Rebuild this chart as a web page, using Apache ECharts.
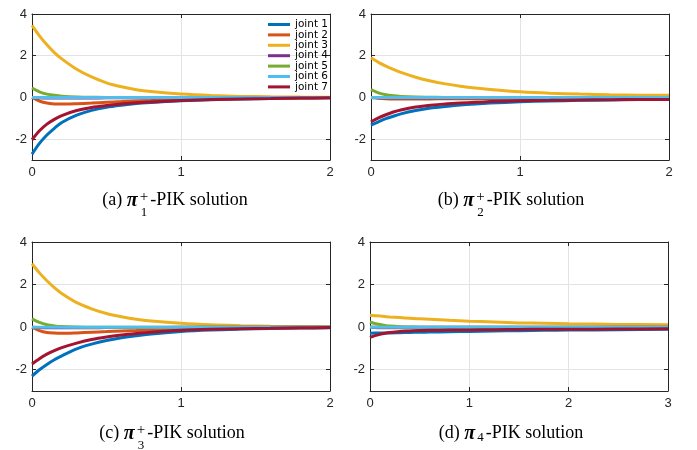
<!DOCTYPE html>
<html><head><meta charset="utf-8">
<script src="https://cdn.jsdelivr.net/npm/echarts@6/dist/echarts.min.js"></script>
<style>html,body{margin:0;padding:0;background:#fff}#c{width:697px;height:450px}</style>
</head><body><div id="c"></div>
<script>
// ---------- data ----------
const jointNames = ['joint 1','joint 2','joint 3','joint 4','joint 5','joint 6','joint 7'];
const yTicks = [-2, 0, 2, 4];
const xTicksABC = [0, 1, 2];
const xTicksD = [0, 1, 2, 3];
const captionLetters = ['a','b','c','d'];
const captionSubs = ['1','2','3','4'];
const captionSups = ['+','+','+',''];

const timeABC = [0, 0.05, 0.1, 0.15, 0.2, 0.3, 0.4, 0.5, 0.6, 0.7, 0.8, 1.0, 1.2, 1.4, 1.6, 1.8, 2.0];
const timeD   = [0, 0.05, 0.1, 0.15, 0.2, 0.3, 0.4, 0.5, 0.6, 0.8, 1.0, 1.25, 1.5, 1.75, 2.0, 2.5, 3.0];

const a1 = [-2.72,-2.2,-1.8,-1.48,-1.2,-0.85,-0.62,-0.47,-0.37,-0.29,-0.24,-0.16,-0.11,-0.07,-0.05,-0.03,-0.02];
const a2 = [0,-0.17,-0.27,-0.31,-0.32,-0.3,-0.27,-0.23,-0.2,-0.17,-0.15,-0.11,-0.08,-0.05,-0.04,-0.03,-0.02];
const a3 = [3.45,2.95,2.52,2.15,1.85,1.35,0.98,0.7,0.51,0.37,0.28,0.16,0.09,0.05,0.03,0.015,0.01];
const a4 = [0,-0.02,-0.03,-0.03,-0.03,-0.03,-0.03,-0.02,-0.02,-0.02,-0.02,-0.01,-0.01,-0.01,0,0,0];
const a5 = [0.45,0.27,0.16,0.1,0.06,0.02,0.01,0,0,0,0,0,0,0,0,0,0];
const a6 = [0,0,0,0,0,0,0,0,0,0,0,0,0,0,0,0,0];
const a7 = [-2.03,-1.6,-1.28,-1.05,-0.87,-0.63,-0.48,-0.39,-0.32,-0.26,-0.22,-0.15,-0.1,-0.07,-0.05,-0.03,-0.02];

const b1 = [-1.33,-1.17,-1.02,-0.9,-0.79,-0.63,-0.51,-0.43,-0.36,-0.31,-0.27,-0.21,-0.17,-0.14,-0.12,-0.1,-0.09];
const b2 = [0,-0.04,-0.06,-0.07,-0.07,-0.07,-0.07,-0.06,-0.06,-0.06,-0.05,-0.05,-0.05,-0.04,-0.04,-0.04,-0.04];
const b3 = [1.9,1.68,1.5,1.34,1.2,0.97,0.79,0.65,0.54,0.45,0.38,0.27,0.2,0.16,0.13,0.11,0.1];
const b4 = [0,-0.01,-0.02,-0.02,-0.02,-0.02,-0.02,-0.02,-0.02,-0.02,-0.02,-0.02,-0.02,-0.02,-0.02,-0.02,-0.02];
const b5 = [0.37,0.22,0.13,0.08,0.05,0.02,0.01,0,0,0,0,0,0,0,0,0,0];
const b6 = [0,0,0,0,0,0,0,0,0,0,0,0,0,0,0,0,0];
const b7 = [-1.17,-0.98,-0.83,-0.7,-0.6,-0.46,-0.37,-0.31,-0.27,-0.23,-0.2,-0.16,-0.14,-0.12,-0.11,-0.1,-0.1];

const c1 = [-2.3,-2.0,-1.75,-1.53,-1.35,-1.02,-0.8,-0.63,-0.5,-0.4,-0.32,-0.2,-0.13,-0.09,-0.06,-0.04,-0.03];
const c2 = [0,-0.16,-0.25,-0.28,-0.29,-0.27,-0.24,-0.21,-0.18,-0.16,-0.14,-0.1,-0.07,-0.05,-0.04,-0.03,-0.02];
const c3 = [2.98,2.55,2.18,1.86,1.58,1.15,0.86,0.64,0.49,0.37,0.29,0.18,0.11,0.07,0.04,0.03,0.02];
const c4 = [0,-0.02,-0.03,-0.03,-0.03,-0.03,-0.03,-0.02,-0.02,-0.02,-0.02,-0.01,-0.01,-0.01,0,0,0];
const c5 = [0.39,0.22,0.11,0.06,0.03,0.01,0,0,0,0,0,0,0,0,0,0,0];
const c6 = [0,0,0,0,0,0,0,0,0,0,0,0,0,0,0,0,0];
const c7 = [-1.73,-1.48,-1.27,-1.1,-0.96,-0.75,-0.58,-0.46,-0.37,-0.3,-0.24,-0.15,-0.1,-0.07,-0.05,-0.03,-0.02];

const d1 = [-0.29,-0.28,-0.28,-0.27,-0.27,-0.26,-0.25,-0.24,-0.23,-0.22,-0.2,-0.18,-0.17,-0.15,-0.14,-0.12,-0.1];
const d2 = [0,-0.02,-0.03,-0.03,-0.03,-0.03,-0.03,-0.03,-0.03,-0.03,-0.03,-0.02,-0.02,-0.02,-0.02,-0.02,-0.02];
const d3 = [0.56,0.54,0.52,0.5,0.48,0.45,0.42,0.39,0.37,0.32,0.28,0.24,0.2,0.18,0.16,0.13,0.11];
const d4 = [0,-0.01,-0.01,-0.01,-0.01,-0.01,-0.01,-0.01,-0.01,-0.01,-0.01,-0.01,-0.01,-0.01,-0.01,-0.01,-0.01];
const d5 = [0.24,0.17,0.12,0.08,0.05,0.02,0.01,0,0,0,0,0,0,0,0,0,0];
const d6 = [0,0,0,0,0,0,0,0,0,0,0,0,0,0,0,0,0];
const d7 = [-0.48,-0.4,-0.34,-0.29,-0.25,-0.2,-0.18,-0.16,-0.15,-0.14,-0.13,-0.12,-0.11,-0.1,-0.1,-0.09,-0.08];

// ---------- styling / layout ----------
const colors = ['#0072BD','#D95319','#EDB120','#7E2F8E','#77AC30','#4DBEEE','#A2142F'];
const panels = [
  {time: timeABC, joints: [a1,a2,a3,a4,a5,a6,a7], xTicks: xTicksABC, grid: {left: 32, top: 14, width: 298, height: 146}, cx: 175, cy: 200},
  {time: timeABC, joints: [b1,b2,b3,b4,b5,b6,b7], xTicks: xTicksABC, grid: {left: 371, top: 14, width: 298, height: 146}, cx: 511, cy: 200},
  {time: timeABC, joints: [c1,c2,c3,c4,c5,c6,c7], xTicks: xTicksABC, grid: {left: 32, top: 242, width: 298, height: 149}, cx: 172, cy: 433},
  {time: timeD,   joints: [d1,d2,d3,d4,d5,d6,d7], xTicks: xTicksD,   grid: {left: 370, top: 242, width: 298, height: 149}, cx: 511, cy: 433}
];

const AX = '#262626';
const GRIDC = '#e3e3e3';
const labelFont = {fontFamily: 'Liberation Sans', fontSize: 13, color: AX};

const grids = [], xAxes = [], yAxes = [], series = [];
panels.forEach((p, i) => {
  grids.push(Object.assign({containLabel: false}, p.grid));
  const xmin = p.xTicks[0], xmax = p.xTicks[p.xTicks.length - 1];
  xAxes.push({type: 'value', gridIndex: i, position: 'bottom', min: xmin, max: xmax, interval: 1,
    axisLine: {show: true, onZero: false, lineStyle: {color: AX, width: 1}},
    axisTick: {show: true, inside: true, length: 4, lineStyle: {color: AX}},
    axisLabel: Object.assign({margin: 6}, labelFont),
    splitLine: {show: true, lineStyle: {color: GRIDC, width: 1}}});
  xAxes.push({type: 'value', gridIndex: i, position: 'top', min: xmin, max: xmax, interval: 1,
    axisLine: {show: true, onZero: false, lineStyle: {color: AX, width: 1}},
    axisTick: {show: true, inside: true, length: 4, lineStyle: {color: AX}},
    axisLabel: {show: false}, splitLine: {show: false}});
  yAxes.push({type: 'value', gridIndex: i, position: 'left', min: -3, max: 4, interval: 1,
    axisLine: {show: true, onZero: false, lineStyle: {color: AX, width: 1}},
    axisTick: {show: true, inside: true, length: 4, lineStyle: {color: AX}, customValues: yTicks},
    axisLabel: Object.assign({margin: 5, customValues: yTicks}, labelFont),
    splitLine: {show: true, lineStyle: {color: GRIDC, width: 1}}});
  yAxes.push({type: 'value', gridIndex: i, position: 'right', min: -3, max: 4, interval: 1,
    axisLine: {show: true, onZero: false, lineStyle: {color: AX, width: 1}},
    axisTick: {show: true, inside: true, length: 4, lineStyle: {color: AX}, customValues: yTicks},
    axisLabel: {show: false}, splitLine: {show: false}});
  p.joints.forEach((vals, j) => {
    series.push({
      type: 'line', name: jointNames[j], xAxisIndex: 2 * i, yAxisIndex: 2 * i,
      data: p.time.map((t, k) => [t, vals[k]]),
      symbol: 'none', smooth: 0.3, clip: true, animation: false,
      lineStyle: {color: colors[j], width: 3}, itemStyle: {color: colors[j]},
      emphasis: {disabled: true}
    });
  });
});

// ---------- captions ----------
const mctx = document.createElement('canvas').getContext('2d');
function tw(font, s) { mctx.font = font; return mctx.measureText(s).width; }
const F_MAIN = '18px "Liberation Serif"';
const F_PI = 'bold italic 20px "Liberation Serif"';
const F_SUP = '15px "Liberation Serif"';
const F_SUB = '13px "Liberation Serif"';
const graphics = [];
panels.forEach((p, i) => {
  const s1 = '(' + captionLetters[i] + ') ';
  const s3 = '-PIK solution';
  const w1 = tw(F_MAIN, s1), wp = tw(F_PI, 'π');
  const ws = Math.max(tw(F_SUP, captionSups[i]), tw(F_SUB, captionSubs[i]));
  const w3 = tw(F_MAIN, s3);
  const W = w1 + wp + 2 + ws + 2 + w3;
  let x = p.cx - W / 2;
  const y = p.cy;
  graphics.push({type: 'text', x: x, y: y, style: {text: s1, font: F_MAIN, fill: '#000', align: 'left', verticalAlign: 'middle'}});
  x += w1;
  graphics.push({type: 'text', x: x, y: y + 1, style: {text: 'π', font: F_PI, fill: '#000', align: 'left', verticalAlign: 'middle'}});
  x += wp + 2;
  if (captionSups[i]) {
    graphics.push({type: 'text', x: x, y: y - 3, style: {text: captionSups[i], font: F_SUP, fill: '#000', align: 'left', verticalAlign: 'middle'}});
    graphics.push({type: 'text', x: x + 1, y: y + 13, style: {text: captionSubs[i], font: F_SUB, fill: '#000', align: 'left', verticalAlign: 'middle'}});
  } else {
    graphics.push({type: 'text', x: x, y: y + 5, style: {text: captionSubs[i], font: F_SUB, fill: '#000', align: 'left', verticalAlign: 'middle'}});
  }
  x += ws + 2;
  graphics.push({type: 'text', x: x, y: y, style: {text: s3, font: F_MAIN, fill: '#000', align: 'left', verticalAlign: 'middle'}});
});

const chart = echarts.init(document.getElementById('c'), null, {renderer: 'canvas'});
chart.setOption({
  animation: false,
  backgroundColor: '#fff',
  grid: grids, xAxis: xAxes, yAxis: yAxes, series: series,
  legend: {
    data: jointNames.map(n => ({name: n, icon: 'rect'})), orient: 'vertical', left: 268, top: 19, padding: 0,
    itemWidth: 22, itemHeight: 3, itemGap: -0.6,
    textStyle: {fontFamily: 'DejaVu Sans', fontSize: 10.5, lineHeight: 10, color: '#000'},
    selectedMode: false
  },
  graphic: graphics
});
</script>
</body></html>
